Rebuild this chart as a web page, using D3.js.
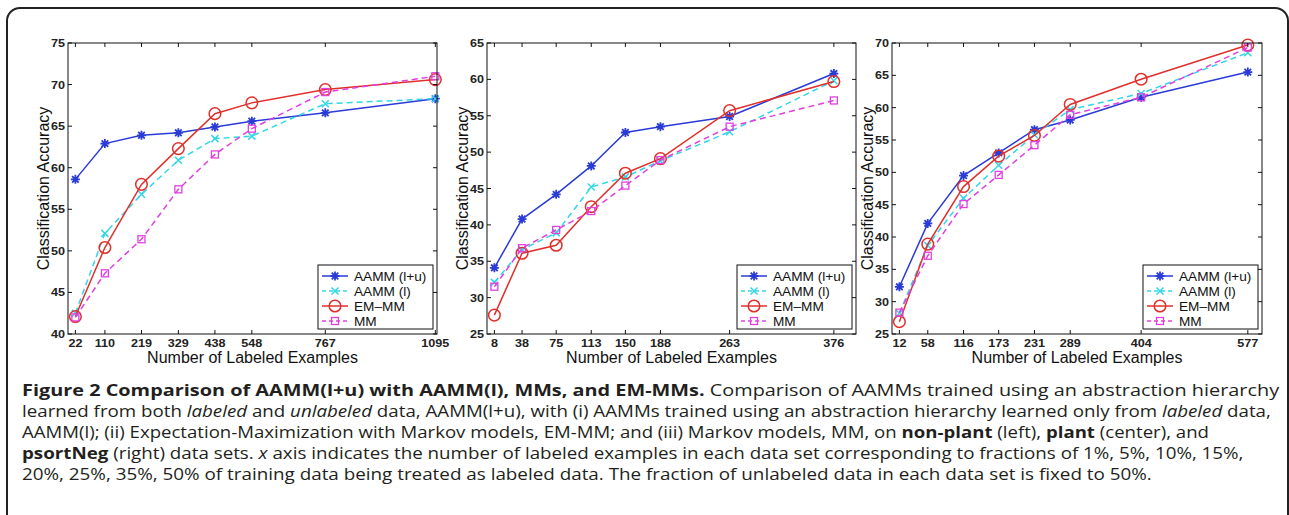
<!DOCTYPE html>
<html>
<head>
<meta charset="utf-8">
<script src="https://cdn.jsdelivr.net/npm/d3@7"></script>
<style>
  body { margin: 0; background: #fff; }
  svg { display: block; }
  .tick-label { font-family: "Liberation Sans", Arial, sans-serif; font-size: 10.5px; font-weight: bold; fill: #222; }
  .axis-title { font-family: "Liberation Sans", Arial, sans-serif; font-size: 16px; fill: #111; }
  .legend-text { font-family: "Liberation Sans", Arial, sans-serif; font-size: 13px; fill: #111; }
  .caption { font-family: "Open Sans", "Noto Sans", sans-serif; font-size: 16px; fill: #231f20; white-space: pre; }
</style>
</head>
<body>
<main></main>
<script>
// legend entries
const seriesNames = ["AAMM (l+u)", "AAMM (l)", "EM\u2013MM", "MM"];

// non-plant (left)
const nonPlantX = [22, 110, 219, 329, 438, 548, 767, 1095];
const nonPlantAammLU = [58.6, 62.9, 63.9, 64.2, 64.9, 65.6, 66.6, 68.3];
const nonPlantAammL = [42.5, 52.1, 56.8, 60.9, 63.5, 63.8, 67.7, 68.3];
const nonPlantEmMm = [42.1, 50.4, 58.0, 62.3, 66.5, 67.8, 69.4, 70.6];
const nonPlantMm = [42.0, 47.3, 51.4, 57.4, 61.6, 64.7, 69.1, 71.0];
const nonPlantYTicks = [40, 45, 50, 55, 60, 65, 70, 75];

// plant (center)
const plantX = [8, 38, 75, 113, 150, 188, 263, 376];
const plantAammLU = [34.1, 40.8, 44.2, 48.1, 52.7, 53.5, 54.9, 60.8];
const plantAammL = [32.1, 36.6, 38.9, 45.2, 46.6, 48.8, 52.8, 59.8];
const plantEmMm = [27.6, 36.1, 37.2, 42.5, 47.1, 49.1, 55.7, 59.7];
const plantMm = [31.5, 36.8, 39.3, 41.9, 45.4, 48.9, 53.5, 57.1];
const plantYTicks = [25, 30, 35, 40, 45, 50, 55, 60, 65];

// psortNeg (right)
const psortX = [12, 58, 116, 173, 231, 289, 404, 577];
const psortAammLU = [32.3, 42.1, 49.5, 53.0, 56.6, 58.1, 61.6, 65.5];
const psortAammL = [28.2, 38.7, 46.0, 51.1, 55.8, 59.7, 62.2, 68.5];
const psortEmMm = [26.9, 38.9, 47.8, 52.5, 55.7, 60.5, 64.4, 69.7];
const psortMm = [28.3, 37.1, 45.1, 49.6, 54.2, 58.9, 61.6, 69.3];
const psortYTicks = [25, 30, 35, 40, 45, 50, 55, 60, 65, 70];

// caption lines: [text, style]
const captionLines = [
    [["Figure 2 Comparison of AAMM(l+u) with AAMM(l), MMs, and EM-MMs.", "b"], [" Comparison of AAMMs trained using an abstraction hierarchy", ""]],
    [["learned from both ", ""], ["labeled", "i"], [" and ", ""], ["unlabeled", "i"], [" data, AAMM(l+u), with (i) AAMMs trained using an abstraction hierarchy learned only from ", ""], ["labeled", "i"], [" data,", ""]],
    [["AAMM(l); (ii) Expectation-Maximization with Markov models, EM-MM; and (iii) Markov models, MM, on ", ""], ["non-plant", "b"], [" (left), ", ""], ["plant", "b"], [" (center), and", ""]],
    [["psortNeg", "b"], [" (right) data sets. ", ""], ["x", "i"], [" axis indicates the number of labeled examples in each data set corresponding to fractions of 1%, 5%, 10%, 15%,", ""]],
    [["20%, 25%, 35%, 50% of training data being treated as labeled data. The fraction of unlabeled data in each data set is fixed to 50%.", ""]]
];
// right end of each caption line in the figure
const captionLineEnds = [1280, 1272, 1210, 1244, 1152];

const width = 1289;
const height = 515;

const styles = [
    { color: "#2a3bd6", dash: null, marker: "star" },
    { color: "#33d6e6", dash: "6,4", marker: "x" },
    { color: "#e0302b", dash: null, marker: "circle" },
    { color: "#e040e0", dash: "6,4", marker: "square" }
];

const panels = [
    { left: 68, right: 437, xMax: 1100, yDomain: [40, 75], xs: nonPlantX, yTicks: nonPlantYTicks,
      series: [nonPlantAammLU, nonPlantAammL, nonPlantEmMm, nonPlantMm] },
    { left: 487, right: 856, xMax: 400, yDomain: [25, 65], xs: plantX, yTicks: plantYTicks,
      series: [plantAammLU, plantAammL, plantEmMm, plantMm] },
    { left: 892, right: 1262, xMax: 600, yDomain: [25, 70], xs: psortX, yTicks: psortYTicks,
      series: [psortAammLU, psortAammL, psortEmMm, psortMm] }
];
const plotTop = 43;
const plotBottom = 334;
const xStretch = 1.2;

const svg = d3.select("main")
    .append("svg")
    .attr("width", width)
    .attr("height", height);

svg.append("rect")
    .attr("width", width)
    .attr("height", height)
    .attr("fill", "#fff");

// outer rounded frame
svg.append("rect")
    .attr("x", 7)
    .attr("y", 8)
    .attr("width", 1281)
    .attr("height", 540)
    .attr("rx", 13)
    .attr("fill", "none")
    .attr("stroke", "#222")
    .attr("stroke-width", 2);

function drawMarker(g, type, x, y, color) {
    if (type === "circle") {
        g.append("circle").attr("cx", x).attr("cy", y).attr("r", 5.8)
            .attr("fill", "none").attr("stroke", color).attr("stroke-width", 1.5);
    } else if (type === "square") {
        g.append("rect").attr("x", x - 3.5).attr("y", y - 3.5).attr("width", 7).attr("height", 7)
            .attr("fill", "none").attr("stroke", color).attr("stroke-width", 1.3);
    } else if (type === "x") {
        const s = 3.5;
        g.append("path").attr("d", `M${x - s},${y - s}L${x + s},${y + s}M${x - s},${y + s}L${x + s},${y - s}`)
            .attr("stroke", color).attr("stroke-width", 1.5);
    } else {
        const s = 4.5, d = 3.3;
        g.append("path")
            .attr("d", `M${x - s},${y}L${x + s},${y}M${x},${y - s}L${x},${y + s}M${x - d},${y - d}L${x + d},${y + d}M${x - d},${y + d}L${x + d},${y - d}`)
            .attr("stroke", color).attr("stroke-width", 1.8);
        g.append("circle").attr("cx", x).attr("cy", y).attr("r", 2).attr("fill", color);
    }
}

panels.forEach(p => {
    const xScale = d3.scaleLinear().domain([0, p.xMax]).range([p.left, p.right]);
    const yScale = d3.scaleLinear().domain(p.yDomain).range([plotBottom, plotTop]);
    const g = svg.append("g");

    // lines and markers
    p.series.forEach((vals, si) => {
        const st = styles[si];
        const pts = vals.map((v, i) => [xScale(p.xs[i]), yScale(v)]);
        g.append("path")
            .attr("d", d3.line()(pts))
            .attr("fill", "none")
            .attr("stroke", st.color)
            .attr("stroke-width", 1.5)
            .attr("stroke-dasharray", st.dash);
        pts.forEach(pt => drawMarker(g, st.marker, pt[0], pt[1], st.color));
    });

    // axes box with inward ticks on all sides
    g.append("rect")
        .attr("x", p.left).attr("y", plotTop)
        .attr("width", p.right - p.left).attr("height", plotBottom - plotTop)
        .attr("fill", "none").attr("stroke", "#111").attr("stroke-width", 1);

    p.xs.forEach(v => {
        const x = xScale(v);
        g.append("path").attr("d", `M${x},${plotBottom}V${plotBottom - 4}M${x},${plotTop}V${plotTop + 4}`)
            .attr("stroke", "#111");
        g.append("text")
            .attr("class", "tick-label")
            .attr("text-anchor", "middle")
            .attr("transform", `translate(${x},${plotBottom + 13}) scale(${xStretch},1)`)
            .text(v);
    });
    p.yTicks.forEach(v => {
        const y = yScale(v);
        g.append("path").attr("d", `M${p.left},${y}H${p.left + 4}M${p.right},${y}H${p.right - 4}`)
            .attr("stroke", "#111");
        g.append("text")
            .attr("class", "tick-label")
            .attr("text-anchor", "end")
            .attr("transform", `translate(${p.left - 3},${y + 4}) scale(${xStretch},1)`)
            .text(v);
    });

    // axis titles
    g.append("text")
        .attr("class", "axis-title")
        .attr("text-anchor", "middle")
        .attr("x", (p.left + p.right) / 2)
        .attr("y", 363)
        .text("Number of Labeled Examples");
    g.append("text")
        .attr("class", "axis-title")
        .attr("text-anchor", "middle")
        .attr("transform", `translate(${p.left - 19},${(plotTop + plotBottom) / 2}) rotate(-90)`)
        .text("Classification Accuracy");

    // legend
    const lx = p.right - 119;
    const ly = 265;
    const leg = g.append("g");
    leg.append("rect")
        .attr("x", lx).attr("y", ly).attr("width", 115).attr("height", 64)
        .attr("fill", "#fff").attr("stroke", "#111").attr("stroke-width", 1);
    seriesNames.forEach((name, i) => {
        const st = styles[i];
        const y = ly + 11 + i * 15;
        leg.append("path").attr("d", `M${lx + 4},${y}H${lx + 30}`)
            .attr("stroke", st.color).attr("stroke-width", 1.5)
            .attr("stroke-dasharray", st.dash ? "4,3" : null);
        drawMarker(leg, st.marker, lx + 17, y, st.color);
        leg.append("text")
            .attr("class", "legend-text")
            .attr("transform", `translate(${lx + 36},${y + 5}) scale(1.05,1)`)
            .text(name);
    });
});

// caption, each line fitted to where it ends in the figure
const captionX = 22;
captionLines.forEach((segs, li) => {
    const t = svg.append("text")
        .attr("class", "caption")
        .attr("x", captionX)
        .attr("y", 396 + li * 21);
    segs.forEach(s => {
        const ts = t.append("tspan").text(s[0]);
        if (s[1] === "b") ts.attr("font-weight", "bold");
        if (s[1] === "i") ts.attr("font-style", "italic");
    });
    const natural = t.node().getComputedTextLength();
    const sx = (captionLineEnds[li] - captionX) / natural;
    t.attr("transform", `translate(${captionX},0) scale(${sx},1) translate(${-captionX},0)`);
});
</script>
</body>
</html>
